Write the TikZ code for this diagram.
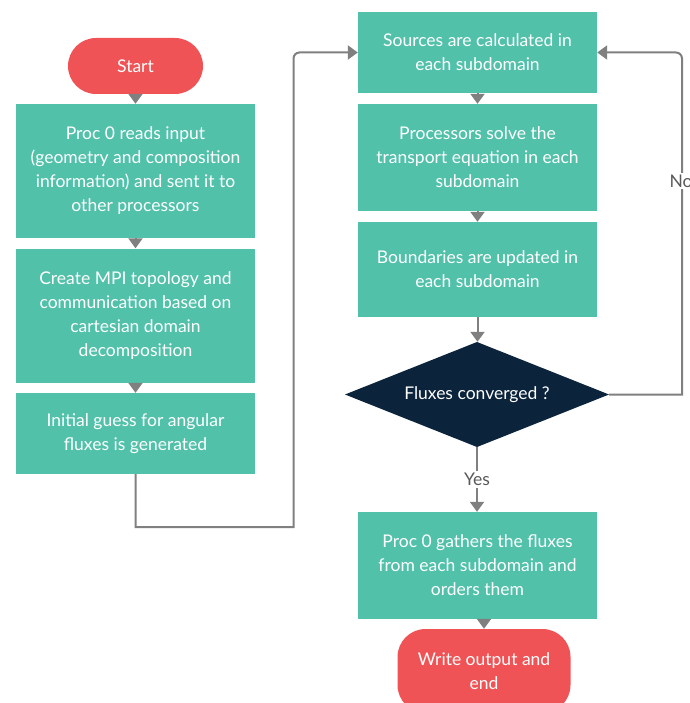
\documentclass[tikz,border=0pt]{standalone}
\usepackage{fontspec}
\setmainfont{Lato}
\usetikzlibrary{arrows.meta}
\definecolor{tealbox}{HTML}{52C1AA}
\definecolor{redterm}{HTML}{F05355}
\definecolor{navy}{HTML}{0B243B}
\definecolor{linegray}{HTML}{808080}
\definecolor{labelgray}{HTML}{595959}
\tikzset{
  boxtext/.style={text=white, font=\fontsize{17.5}{24}\selectfont, align=center, inner sep=0pt},
  procbox/.style={boxtext, rectangle, fill=tealbox, minimum width=239pt},
  termbox/.style={boxtext, rectangle, fill=redterm, rounded corners=28pt},
  decbox/.style={boxtext, rectangle, minimum width=264pt, minimum height=105pt,
    path picture={\fill[navy] (path picture bounding box.north) -- (path picture bounding box.east) -- (path picture bounding box.south) -- (path picture bounding box.west) -- cycle;}},
  arr/.style={draw=linegray, line width=2pt, -{Triangle[width=14pt,length=10pt]}},
  lbl/.style={fill=white, text=labelgray, font=\fontsize{17.5}{20}\selectfont, inner sep=2pt}
}
\begin{document}
\begin{tikzpicture}[x=1pt,y=-1pt]
\clip (0,0) rectangle (689,703);
\fill[white] (0,0) rectangle (689,703);
% left column
\node[termbox, minimum width=135pt, minimum height=56pt] (start) at (135.5,66) {Start};
\node[procbox, minimum height=134pt] (b1) at (135.5,171) {Proc 0 reads input\\(geometry and composition\\information) and sent it to\\other processors};
\node[procbox, minimum height=134pt] (b2) at (135.5,315.5) {Create MPI topology and\\communication based on\\cartesian domain\\decomposition};
\node[procbox, minimum height=81pt] (b3) at (135.5,433.5) {Initial guess for angular\\fluxes is generated};
% right column
\node[procbox, minimum height=81pt] (s1) at (477.5,52.5) {Sources are calculated in\\each subdomain};
\node[procbox, minimum height=107pt] (s2) at (477.5,157.5) {Processors solve the\\transport equation in each\\subdomain};
\node[procbox, minimum height=95pt] (s3) at (477.5,269.5) {Boundaries are updated in\\each subdomain};
\node[decbox] (dec) at (477,394.5) {Fluxes converged ?};
\node[procbox, minimum height=107pt] (g) at (477.5,565.5) {Proc 0 gathers the fluxes\\from each subdomain and\\orders them};
\node[termbox, minimum width=173pt, minimum height=84pt] (fin) at (484,671) {Write output and\\end};
% connectors
\coordinate (lc) at (293.5,527);
\coordinate (rc) at (682,394.5);
\draw[arr] (start.south) -- (b1.north);
\draw[arr] (b1.south) -- (b2.north);
\draw[arr] (b2.south) -- (b3.north);
\draw[arr] (b3.south) -- (b3.south |- lc) -- (lc) [rounded corners=6pt] -- (lc |- s1.west) -- (s1.west);
\draw[arr] (s1.south) -- (s2.north);
\draw[arr] (s2.south) -- (s3.north);
\draw[arr] (s3.south) -- (s3.south |- dec.north);
\draw[arr] (dec.east) -- (rc) [rounded corners=6pt] -- (rc |- s1.east) -- (s1.east);
\node[lbl] (no) at (681,181) {No};
\draw[arr] (dec.south) -- node[lbl] (yes) {Yes} (dec.south |- g.north);
\draw[arr] (fin.north |- g.south) -- (fin.north);
\end{tikzpicture}
\end{document}
